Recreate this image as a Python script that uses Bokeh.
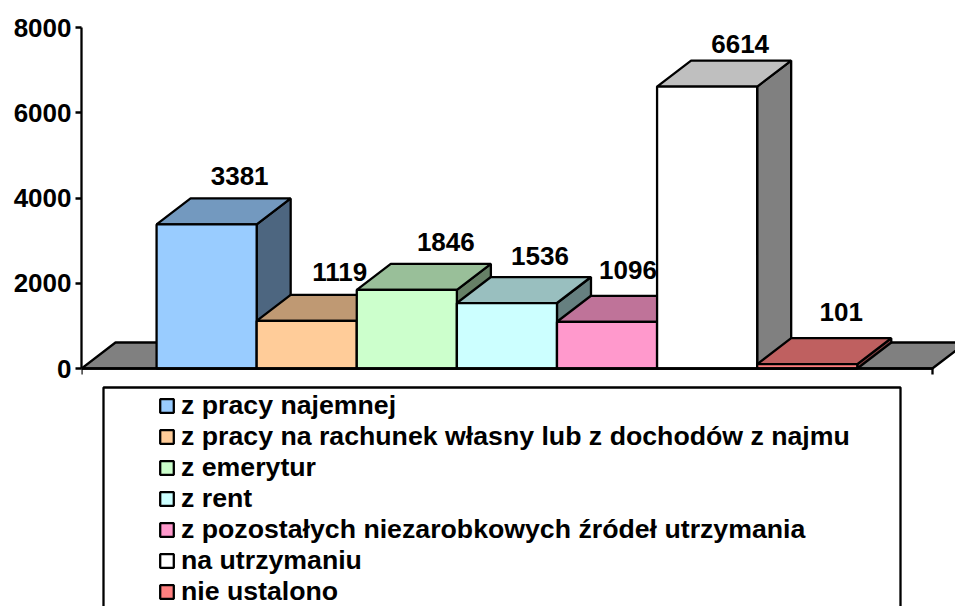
from bokeh.plotting import figure
from bokeh.models import (ColumnDataSource, FixedTicker, Legend, LegendItem,
                          BoxAnnotation, Range1d, LinearAxis)
from bokeh.embed import file_html
from bokeh.resources import INLINE

categories = ["z pracy najemnej",
              "z pracy na rachunek własny lub z dochodów z najmu",
              "z emerytur", "z rent",
              "z pozostałych niezarobkowych źródeł utrzymania",
              "na utrzymaniu", "nie ustalono"]
values = [3381, 1119, 1846, 1536, 1096, 6614, 101]
front_colors = ["#99CCFF", "#FFCC99", "#CCFFCC", "#CCFFFF", "#FF99CC", "#FFFFFF", "#FF8080"]
top_colors = ["#7399BF", "#BF9973", "#99BF99", "#99BFBF", "#BF7399", "#BFBFBF", "#BF6060"]
side_colors = ["#4D6680", "#806650", "#668066", "#668080", "#804D66", "#808080", "#804040"]
y_ticks = [0, 2000, 4000, 6000, 8000]
label_dx = [-1, -1, 5, -1, -13, -1, 0]
label_dy = [22, 23, 22, 21, 26, 17, 26]

W, H = 955, 606
LEFT = 81
PX_Y = 8000 / 341          # data units per pixel
PX_X = 1 / 100.1
ZERO_Y = 368               # zero line, px from the figure top
DX, DY = 34 * PX_X, 26 * PX_Y
GAP = 0.75
AXIS_END = 8.5
FONT = "Liberation Sans"
LW = 2.3

p = figure(width=W, height=H, output_backend="svg", toolbar_location=None,
           x_range=Range1d(0, (W - LEFT) * PX_X),
           y_range=Range1d(-(H - ZERO_Y) * PX_Y, ZERO_Y * PX_Y),
           min_border_left=LEFT, min_border_right=0, min_border_top=0, min_border_bottom=0,
           x_axis_type=None, y_axis_type=None, outline_line_color=None)
p.grid.visible = False

# floor of the 3D chart
p.patch([0, DX, AXIS_END + DX, AXIS_END], [0, DY, DY, 0], fill_color="#808080",
        line_color="black", line_width=LW)

left = [GAP + i for i in range(len(values))]
right = [x + 1 for x in left]
src = ColumnDataSource(dict(left=left, right=right, top=values, bottom=[0] * len(values),
                            front=front_colors))
p.patches([[r, r + DX, r + DX, r] for r in right],
          [[0, DY, v + DY, v] for v in values],
          fill_color=side_colors, line_color="black", line_width=LW)
p.patches([[l, l + DX, r + DX, r] for l, r in zip(left, right)],
          [[v, v + DY, v + DY, v] for v in values],
          fill_color=top_colors, line_color="black", line_width=LW)
fronts = p.quad(left="left", right="right", top="top", bottom="bottom", source=src,
                fill_color="front", line_color="black", line_width=LW)

lab = ColumnDataSource(dict(
    x=[(l + r) / 2 + DX for l, r in zip(left, right)],
    y=[v + DY for v in values],
    t=[str(v) for v in values],
    xo=label_dx,
    yo=[-d for d in label_dy]))
p.text("x", "y", text="t", source=lab, x_offset="xo", y_offset="yo",
       text_align="center", text_baseline="middle", text_color="black",
       text_font={"value": FONT}, text_font_style="bold", text_font_size="26px")

yaxis = LinearAxis(ticker=FixedTicker(ticks=y_ticks), bounds=(0, 8000))
xaxis = LinearAxis(ticker=FixedTicker(ticks=[0, AXIS_END]), bounds=(0, AXIS_END),
                   fixed_location=0, major_label_text_color=None)
for ax in (yaxis, xaxis):
    ax.axis_line_color = "black"
    ax.axis_line_width = LW
    ax.major_tick_line_color = "black"
    ax.major_tick_line_width = LW
    ax.major_tick_out = 6
    ax.major_tick_in = 0
    ax.minor_tick_line_color = None
yaxis.major_label_standoff = 4
yaxis.major_label_text_font = FONT
yaxis.major_label_text_font_style = "bold"
yaxis.major_label_text_font_size = "26px"
yaxis.major_label_text_color = "black"
p.add_layout(yaxis, "left")
p.add_layout(xaxis, "below")

p.add_layout(BoxAnnotation(left=103 - LEFT, right=900 - LEFT, top=H - 387, bottom=-40,
                           left_units="screen", right_units="screen",
                           top_units="screen", bottom_units="screen",
                           fill_color="white", fill_alpha=1,
                           line_color="black", line_alpha=1, line_width=LW, level="underlay"))

legend = Legend(items=[LegendItem(label=c, renderers=[fronts], index=i)
                       for i, c in enumerate(categories)],
                location=(158 - LEFT, -1), orientation="vertical",
                background_fill_alpha=0, border_line_alpha=0,
                padding=0, margin=0, spacing=0,
                glyph_width=17, glyph_height=17, label_standoff=6,
                label_height=29,
                label_text_font=FONT, label_text_font_style="bold",
                label_text_font_size="26.7px", label_text_color="black")
p.add_layout(legend, "center")

open("out.html", "w").write(file_html(p, INLINE))
